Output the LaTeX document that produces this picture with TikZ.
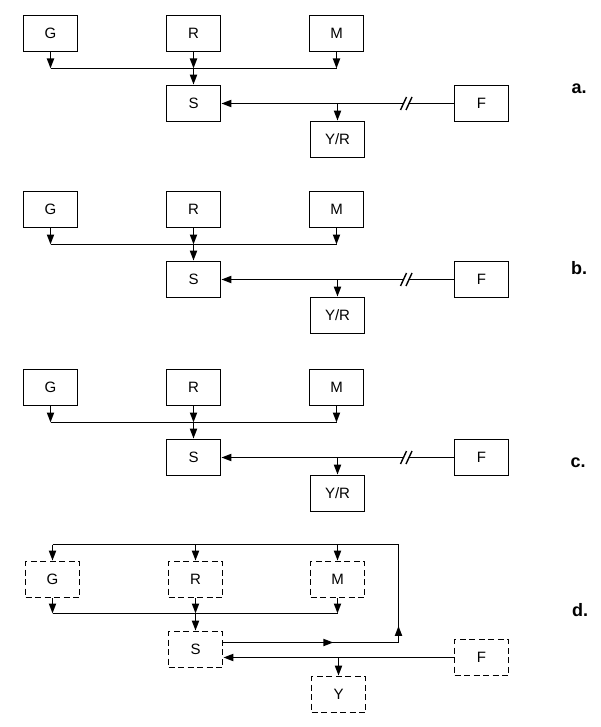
\documentclass[tikz,border=0pt]{standalone}
\usepackage{fontspec}
\setmainfont{Liberation Sans}
\usetikzlibrary{arrows.meta,decorations.markings}
\begin{document}
\begin{tikzpicture}[x=1pt,y=-1pt,
  blk/.style={draw,line width=1.7pt,minimum width=54pt,minimum height=36pt,inner sep=0pt,font=\fontsize{15}{15}\selectfont},
  dblk/.style={blk,dash pattern=on 6pt off 3.5pt},
  wire/.style={line width=1.8pt},
  arr/.style={wire,-{Triangle[length=10pt,width=7pt]}},
  lbl/.style={font=\bfseries\fontsize{18}{18}\selectfont},
  brk/.style={line width=1.4pt},
  midarr/.style={wire,postaction={decorate},decoration={markings,mark=at position #1 with {\arrow{Triangle[length=10pt,width=7pt]}}}}
]
\useasboundingbox (0,0) rectangle (600,727);

% panels a, b, c
\foreach \p/\t in {a/15,b/191,c/369} {
  \node[blk] (G\p) at (50.5,\t+18.5) {G};
  \node[blk] (R\p) at (193.5,\t+18.5) {R};
  \node[blk] (M\p) at (336.5,\t+18.5) {M};
  \node[blk] (S\p) at (193.5,\t+88.5) {S};
  \node[blk] (F\p) at (481.5,\t+88.5) {F};
  \node[blk] (Y\p) at (337.5,\t+124.5) {Y/R};
  \coordinate (gb\p) at (50.5,\t+53.5);
  \coordinate (rb\p) at (193.5,\t+53.5);
  \coordinate (mb\p) at (336.5,\t+53.5);
  \coordinate (yb\p) at (337.5,\t+88.5);
  \coordinate (k1\p) at (403.5,\t+88.5);
  \coordinate (k2\p) at (409,\t+88.5);
  \draw[wire] (gb\p) -- (mb\p);
  \draw[arr] (G\p.south) -- (gb\p);
  \draw[arr] (R\p.south) -- (rb\p);
  \draw[arr] (M\p.south) -- (mb\p);
  \draw[arr] (rb\p) -- (S\p.north);
  \draw[wire] (F\p.west) -- (k2\p);
  \draw[arr] (k1\p) -- (S\p.east);
  \draw[arr] (yb\p) -- (Y\p.north);
  \draw[brk] ([shift={(-3,6.5)}]k1\p) -- ([shift={(3,-6.5)}]k1\p);
  \draw[brk] ([shift={(-3,6.5)}]k2\p) -- ([shift={(3,-6.5)}]k2\p);
}

% panel d
\node[dblk] (Gd) at (52.5,579.5) {G};
\node[dblk] (Rd) at (195.5,579.5) {R};
\node[dblk] (Md) at (337.5,579.5) {M};
\node[dblk] (Sd) at (195.5,649.5) {S};
\node[dblk] (Fd) at (481.5,657.5) {F};
\node[dblk] (Yd) at (338.5,694.5) {Y};
\coordinate (tg) at (52.5,544.5);
\coordinate (tr) at (195.5,544.5);
\coordinate (tm) at (337.5,544.5);
\coordinate (tc) at (398.5,544.5);
\coordinate (bg) at (52.5,613.5);
\coordinate (br) at (195.5,613.5);
\coordinate (bm) at (337.5,613.5);
\coordinate (so) at (222.5,642.5);
\coordinate (sc) at (398.5,642.5);
\coordinate (yb) at (338.5,657.5);
\draw[wire] (tg) -- (tc);
\draw[arr] (tg) -- (Gd.north);
\draw[arr] (tr) -- (Rd.north);
\draw[arr] (tm) -- (Md.north);
\draw[wire] (bg) -- (bm);
\draw[arr] (Gd.south) -- (bg);
\draw[arr] (Rd.south) -- (br);
\draw[arr] (Md.south) -- (bm);
\draw[arr] (br) -- (Sd.north);
\draw[midarr=0.63] (so) -- (sc);
\draw[midarr=0.17] (sc) -- (tc);
\draw[arr] (Fd.west) -- (Sd.east |- Fd.west);
\draw[arr] (yb) -- (Yd.north);

% labels
\node[lbl] (la) at (579,89) {a.};
\node[lbl] (lb) at (579,268) {b.};
\node[lbl] (lc) at (578,463) {c.};
\node[lbl] (ld) at (580,610) {d.};
\end{tikzpicture}
\end{document}
